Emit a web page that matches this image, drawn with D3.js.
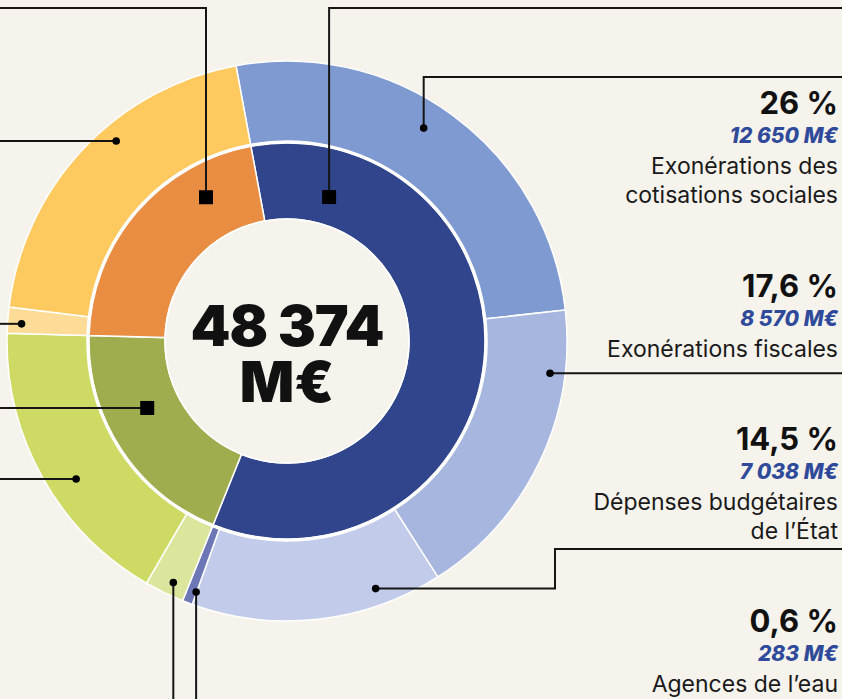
<!DOCTYPE html>
<html>
<head>
<meta charset="utf-8">
<script src="https://cdn.jsdelivr.net/npm/d3@7"></script>
<style>
  html, body { margin: 0; padding: 0; background: #f5f3ec; }
  svg { display: block; font-family: Inter, "Noto Sans", sans-serif; }
</style>
</head>
<body>
<svg id="chart" width="842" height="699"></svg>
<script>
// outer ring (detail), clockwise from the top
var outerNames = ["Exonérations des cotisations sociales", "Exonérations fiscales",
    "Dépenses budgétaires de l’État", "Agences de l’eau",
    "Vert clair", "Vert", "Jaune clair", "Jaune"];
var outerGroups = ["bleu", "bleu", "bleu", "bleu", "vert", "vert", "jaune", "jaune"];
var outerValues = [12650, 8570, 7038, 283, 1105, 8259, 721, 9748];
var outerColors = ["#7f9ad1", "#a6b6df", "#c3cbea", "#6d77b5",
    "#dbe59c", "#cfda64", "#fedc98", "#fec95f"];

// inner ring groups
var innerGroups = ["bleu", "vert", "jaune"];
var innerColors = ["#30458b", "#a0ad4e", "#e98d43"];

// right-hand labels
var labelPercents = ["26 %", "17,6 %", "14,5 %", "0,6 %"];
var labelAmounts = ["12 650 M€", "8 570 M€", "7 038 M€", "283 M€"];
var labelTexts = [["Exonérations des", "cotisations sociales"], ["Exonérations fiscales"],
    ["Dépenses budgétaires", "de l’État"], ["Agences de l’eau"]];
var labelTops = [114, 297, 450, 632];

var total = d3.sum(outerValues);
var innerValues = innerGroups.map(function (g) {
    return d3.sum(outerValues.filter(function (v, i) { return outerGroups[i] == g; }));
});

var cx = 287, cy = 341;
var rOuter = 280, rMid = 199, rInner = 122;
var start = -10.5 * Math.PI / 180;

var svg = d3.select("#chart");
svg.append("rect").attr("width", 842).attr("height", 699).attr("fill", "#f5f3ec");

var g = svg.append("g").attr("transform", "translate(" + cx + "," + cy + ")");

var pie = d3.pie().sort(null).value(function (d) { return d; })
    .startAngle(start).endAngle(start + 2 * Math.PI);

var outerArc = d3.arc().innerRadius(rMid + 1).outerRadius(rOuter);
var innerArc = d3.arc().innerRadius(rInner).outerRadius(rMid - 1);

g.selectAll(".outer")
    .data(pie(outerValues))
    .join("path")
    .attr("class", "outer")
    .attr("d", outerArc)
    .attr("fill", function (d, i) { return outerColors[i]; })
    .attr("stroke", "#ffffff")
    .attr("stroke-width", 1.5);

g.selectAll(".inner")
    .data(pie(innerValues))
    .join("path")
    .attr("class", "inner")
    .attr("d", innerArc)
    .attr("fill", function (d, i) { return innerColors[i]; })
    .attr("stroke", "#ffffff")
    .attr("stroke-width", 1.5);

// ring separator
g.append("circle").attr("r", rMid).attr("fill", "none")
    .attr("stroke", "#ffffff").attr("stroke-width", 2.5);
g.append("circle").attr("r", rInner).attr("fill", "none")
    .attr("stroke", "#ffffff").attr("stroke-width", 1.5);

// centre total (one text, two lines)
var centre = g.append("text").attr("text-anchor", "middle")
    .attr("font-size", 57).attr("font-weight", 900).attr("fill", "#111");
centre.append("tspan").attr("x", 0).attr("y", 5).attr("letter-spacing", -1)
    .text(d3.format(",")(total).replace(",", " "));
centre.append("tspan").attr("x", 0).attr("y", 61).text("M€");

// leader lines: anchor in polar coords (deg clockwise from top, radius), then route
function polar(a, r) {
    var t = a * Math.PI / 180;
    return [cx + r * Math.sin(t), cy - r * Math.cos(t)];
}
var leaders = [
    { a: 330.6, r: 165, shape: "square", route: function (p) { return [p, [p[0], 8], [-10, 8]]; } },
    { a: 16.3, r: 150, shape: "square", route: function (p) { return [p, [p[0], 8], [850, 8]]; } },
    { a: 32.7, r: 253, shape: "dot", route: function (p) { return [p, [p[0], 77], [850, 77]]; } },
    { a: 319.5, r: 263, shape: "dot", route: function (p) { return [p, [-10, p[1]]]; } },
    { a: 273.7, r: 266, shape: "dot", route: function (p) { return [p, [-10, p[1]]]; } },
    { a: 244.4, r: 155, shape: "square", route: function (p) { return [p, [-10, p[1]]]; } },
    { a: 236.8, r: 252, shape: "dot", route: function (p) { return [p, [-10, p[1]]]; } },
    { a: 205.2, r: 267, shape: "dot", route: function (p) { return [p, [p[0], 710]]; } },
    { a: 199.9, r: 267, shape: "dot", route: function (p) { return [p, [p[0], 710]]; } },
    { a: 97, r: 265, shape: "dot", route: function (p) { return [p, [850, p[1]]]; } },
    { a: 160.3, r: 263, shape: "dot", route: function (p) { return [p, [555, p[1]], [555, 549], [850, 549]]; } }
];

var line = d3.line();
leaders.forEach(function (l) {
    var p = polar(l.a, l.r);
    svg.append("path").attr("d", line(l.route(p)))
        .attr("fill", "none").attr("stroke", "#151515").attr("stroke-width", 2);
    if (l.shape == "square") {
        svg.append("rect").attr("x", p[0] - 7).attr("y", p[1] - 7)
            .attr("width", 14).attr("height", 14).attr("fill", "#000");
    } else {
        svg.append("circle").attr("cx", p[0]).attr("cy", p[1]).attr("r", 3.8).attr("fill", "#000");
    }
});

// right labels
var lx = 838;
labelPercents.forEach(function (pct, i) {
    var y = labelTops[i];
    svg.append("text").attr("x", lx).attr("y", y).attr("text-anchor", "end")
        .attr("font-size", 31).attr("font-weight", 700).attr("fill", "#111").text(pct);
    svg.append("text").attr("x", lx).attr("y", y + 29).attr("text-anchor", "end")
        .attr("font-size", 21).attr("font-weight", 800).attr("font-style", "italic")
        .attr("fill", "#2f4a9a").text(labelAmounts[i]);
    labelTexts[i].forEach(function (t, j) {
        svg.append("text").attr("x", lx).attr("y", y + 60 + j * 29).attr("text-anchor", "end")
            .attr("font-size", 23).attr("font-weight", 400).attr("fill", "#1a1a1a").text(t);
    });
});
</script>
</body>
</html>
